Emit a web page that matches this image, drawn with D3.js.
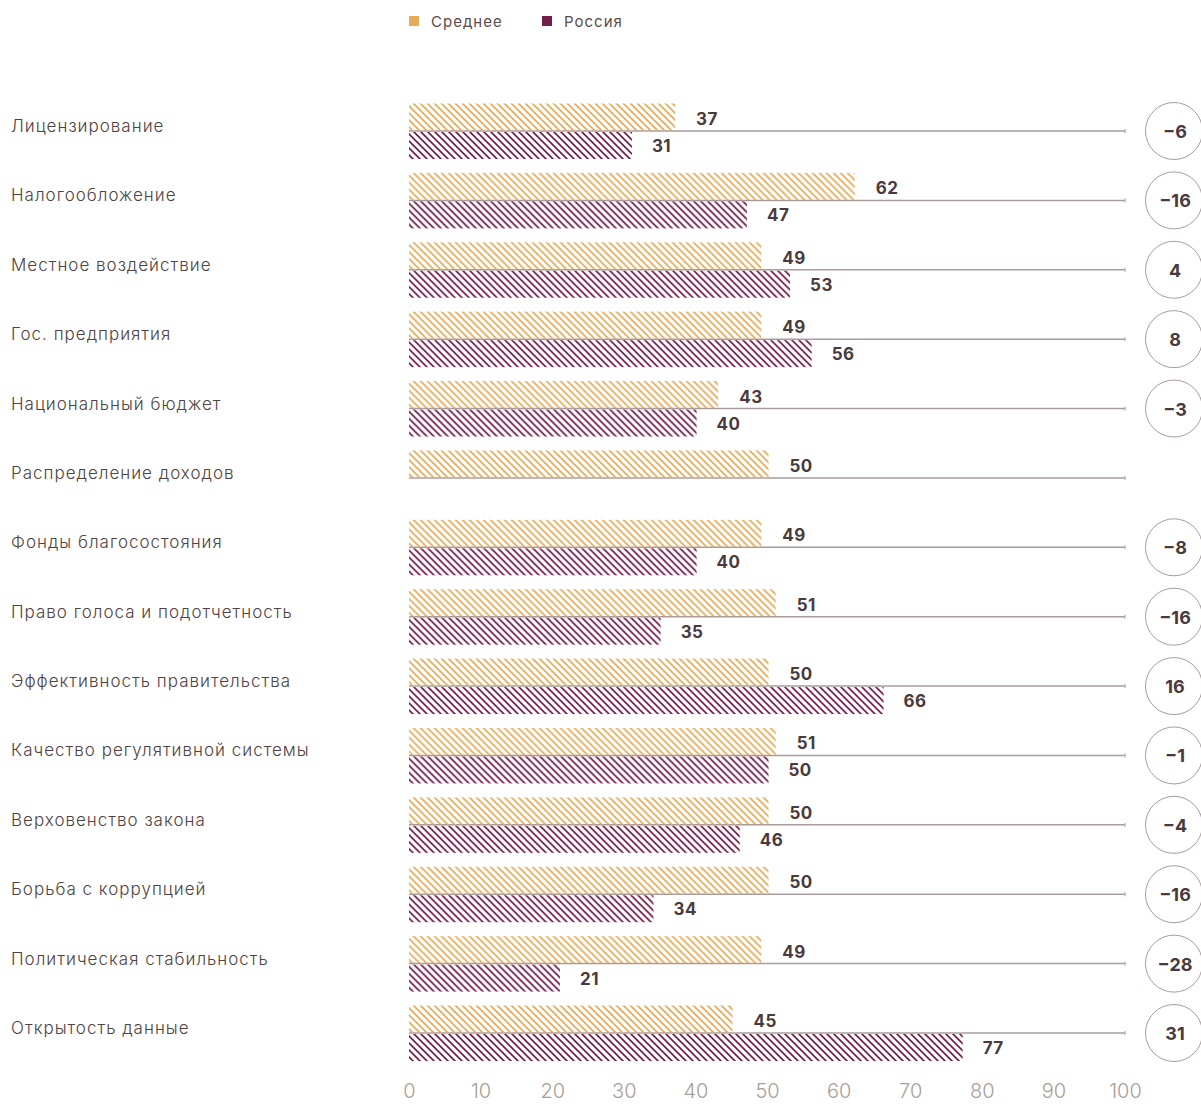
<!DOCTYPE html>
<html>
<head>
<meta charset="utf-8">
<script src="https://cdn.jsdelivr.net/npm/d3@7"></script>
<style>
  body { margin: 0; background: #fff; }
  svg text { font-family: Inter, "Noto Sans", sans-serif; }
</style>
</head>
<body>
<div id="chart"></div>
<script>
// data
var categories = [
  "Лицензирование", "Налогообложение", "Местное воздействие", "Гос. предприятия",
  "Национальный бюджет", "Распределение доходов", "Фонды благосостояния",
  "Право голоса и подотчетность", "Эффективность правительства",
  "Качество регулятивной системы", "Верховенство закона", "Борьба с коррупцией",
  "Политическая стабильность", "Открытость данные"
];
var average = [37, 62, 49, 49, 43, 50, 49, 51, 50, 51, 50, 50, 49, 45];
var russia = [31, 47, 53, 56, 40, null, 40, 35, 66, 50, 46, 34, 21, 77];
var diffs = ["−6", "−16", "4", "8", "−3", null, "−8", "−16", "16", "−1", "−4", "−16", "−28", "31"];
var seriesNames = ["Среднее", "Россия"];
var xTicks = [0, 10, 20, 30, 40, 50, 60, 70, 80, 90, 100];

var svgWidth = 1201;
var svgHeight = 1104;
var orange = "#e8aa58";
var purple = "#741c4a";
var textDark = "#4a3a3c";

var svg = d3.select("#chart")
  .append("svg")
  .attr("width", svgWidth)
  .attr("height", svgHeight);

// hatch patterns
var defs = svg.append("defs");
[["hatchAvg", orange], ["hatchRus", purple]].forEach(function(p) {
  var pat = defs.append("pattern")
    .attr("id", p[0])
    .attr("patternUnits", "userSpaceOnUse")
    .attr("width", 7)
    .attr("height", 7);
  pat.append("path")
    .attr("d", "M-1,-1 L8,8 M5,-2 L9,2 M-2,5 L2,9")
    .attr("stroke", p[1])
    .attr("stroke-width", 1.7)
    .attr("fill", "none");
});

var x = d3.scaleLinear().domain([0, 100]).range([409, 1128]);
var y = d3.scalePoint().domain(categories).range([131, 1033]);
var barH = 27;

// legend
var legend = svg.append("g");
var legendX = [409, 542];
seriesNames.forEach(function(name, i) {
  legend.append("rect")
    .attr("x", legendX[i]).attr("y", 16)
    .attr("width", 10).attr("height", 10)
    .attr("fill", i === 0 ? orange : purple);
  legend.append("text")
    .attr("x", legendX[i] + 22).attr("y", 27)
    .style("font-size", "15px")
    .style("letter-spacing", "1px")
    .attr("fill", "#5a4c4c")
    .text(name);
});

var rows = svg.selectAll(".row")
  .data(categories)
  .enter()
  .append("g")
  .attr("class", "row")
  .attr("transform", d => `translate(0, ${y(d)})`);

// category labels
rows.append("text")
  .attr("x", 11)
  .attr("y", 1)
  .style("font-size", "17px")
  .style("font-weight", "300")
  .style("letter-spacing", "1px")
  .attr("fill", "#4f4244")
  .text(d => d);

// baseline with end tick
rows.append("line")
  .attr("x1", x(0)).attr("x2", 1125)
  .attr("y1", 0).attr("y2", 0)
  .attr("stroke", "#a89c9c")
  .attr("stroke-width", 1.5);
rows.append("line")
  .attr("x1", 1125).attr("x2", 1125)
  .attr("y1", -2).attr("y2", 2)
  .attr("stroke", "#a89c9c")
  .attr("stroke-width", 1);

// average bars
rows.append("rect")
  .attr("x", x(0))
  .attr("y", -barH - 0.5)
  .attr("width", (d, i) => x(average[i]) - x(0))
  .attr("height", barH)
  .attr("fill", "url(#hatchAvg)");

rows.append("text")
  .attr("x", (d, i) => x(average[i]) + 21)
  .attr("y", -6)
  .style("font-size", "17px")
  .style("font-weight", "bold")
  .style("letter-spacing", "0.5px")
  .attr("fill", textDark)
  .text((d, i) => average[i]);

// russia bars
var rusRows = rows.filter((d, i) => russia[i] !== null);
rusRows.append("rect")
  .attr("x", x(0))
  .attr("y", 1)
  .attr("width", d => x(russia[categories.indexOf(d)]) - x(0))
  .attr("height", barH)
  .attr("fill", "url(#hatchRus)");

rusRows.append("text")
  .attr("x", d => x(russia[categories.indexOf(d)]) + 20)
  .attr("y", 21)
  .style("font-size", "17px")
  .style("font-weight", "bold")
  .style("letter-spacing", "0.5px")
  .attr("fill", textDark)
  .text(d => russia[categories.indexOf(d)]);

// difference circles
var diffRows = rows.filter((d, i) => diffs[i] !== null);
diffRows.append("circle")
  .attr("cx", 1174)
  .attr("cy", 0)
  .attr("r", 28.5)
  .attr("fill", "#fff")
  .attr("stroke", "#a89c9c")
  .attr("stroke-width", 1);
diffRows.append("text")
  .attr("x", 1175)
  .attr("y", 7)
  .attr("text-anchor", "middle")
  .style("font-size", "18px")
  .style("font-weight", "bold")
  .attr("fill", textDark)
  .text(d => diffs[categories.indexOf(d)]);

// x axis (labels sit on the 0..100 grid the tick labels use)
var axisScale = d3.scaleLinear().domain([0, 100]).range([409, 1125]);
var axis = svg.append("g")
  .attr("transform", "translate(0, 1098)")
  .call(d3.axisBottom(axisScale).tickValues(xTicks).tickSize(0).tickPadding(0));
axis.select(".domain").remove();
axis.selectAll("text")
  .attr("dy", 0)
  .style("font-size", "20px")
  .style("font-weight", "300")
  .style("font-family", "Inter, 'Noto Sans', sans-serif")
  .attr("fill", "#a89e98");
</script>
</body>
</html>
